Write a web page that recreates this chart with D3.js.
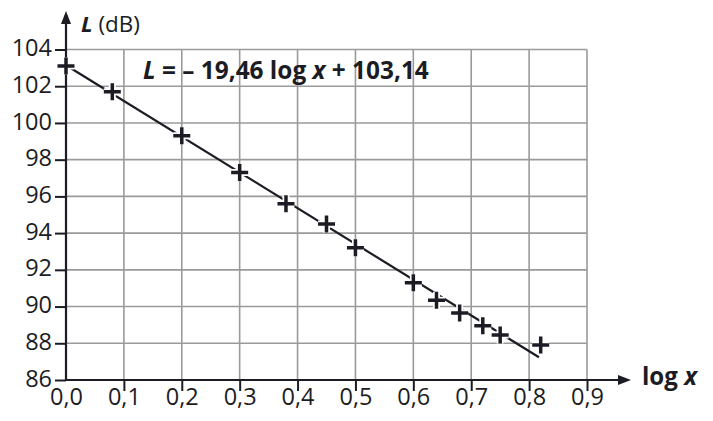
<!DOCTYPE html>
<html>
<head>
<meta charset="utf-8">
<script src="https://cdn.jsdelivr.net/npm/d3@7"></script>
<style>
  body { margin: 0; background: #fff; }
  svg { display: block; font-family: "Open Sans", sans-serif; }
</style>
</head>
<body>
<svg id="chart" width="713" height="421"></svg>
<script>
// measured points (log x, L in dB)
var logX = [0, 0.08, 0.20, 0.30, 0.38, 0.45, 0.50, 0.60, 0.64, 0.68, 0.72, 0.75, 0.82];
var levelL = [103.1, 101.7, 99.3, 97.3, 95.6, 94.5, 93.2, 91.3, 90.35, 89.65, 88.95, 88.45, 87.9];

// regression line  L = -19,46 log x + 103,14
var fitSlope = -19.46;
var fitIntercept = 103.14;
var fitRange = [0, 0.817];

var xTicks = [0, 0.1, 0.2, 0.3, 0.4, 0.5, 0.6, 0.7, 0.8, 0.9];
var yTicks = [86, 88, 90, 92, 94, 96, 98, 100, 102, 104];

var svg = d3.select("#chart");
var ink = "#1c1c24";

var x = d3.scaleLinear().domain([0, 0.9]).range([66, 587]);
var y = d3.scaleLinear().domain([86, 104]).range([380, 49.5]);

var fmt = function(d) { return d3.format(".1f")(d).replace(".", ","); };

// squeeze a text horizontally to a target width (narrow font look)
function fitWidth(sel, px, py, w) {
  var nat = sel.node().getComputedTextLength();
  sel.attr("transform", "translate(" + px + "," + py + ") scale(" + (w / nat) + ",1)");
}

// grid
var grid = svg.append("g");
grid.selectAll(".vg").data(xTicks.slice(1)).enter().append("line")
  .attr("x1", function(d) { return x(d); }).attr("x2", function(d) { return x(d); })
  .attr("y1", y(86)).attr("y2", y(104))
  .attr("stroke", "#9a9a9a").attr("stroke-width", 1.6);
grid.selectAll(".hg").data(yTicks.slice(1)).enter().append("line")
  .attr("x1", x(0)).attr("x2", x(0.9))
  .attr("y1", function(d) { return y(d); }).attr("y2", function(d) { return y(d); })
  .attr("stroke", "#9a9a9a").attr("stroke-width", 1.6);

// equation label
var eq = svg.append("text")
  .attr("font-size", 25).attr("font-weight", "bold").attr("fill", ink);
eq.append("tspan").attr("font-style", "italic").text("L");
eq.append("tspan").text(" = – 19,46 log ");
eq.append("tspan").attr("font-style", "italic").text("x");
eq.append("tspan").text(" + 103,14");
fitWidth(eq, 143, 79, 286);

// fit line
svg.append("line")
  .attr("x1", x(fitRange[0])).attr("y1", y(fitSlope * fitRange[0] + fitIntercept))
  .attr("x2", x(fitRange[1])).attr("y2", y(fitSlope * fitRange[1] + fitIntercept))
  .attr("stroke", ink).attr("stroke-width", 2.2);

// axes
var xAxis = d3.axisBottom(x).tickValues(xTicks).tickSize(11).tickFormat(fmt);
var yAxis = d3.axisLeft(y).tickValues(yTicks).tickSize(11).tickPadding(3).tickFormat(d3.format("d"));

var gx = svg.append("g").attr("transform", "translate(0," + y(86) + ")").call(xAxis);
var gy = svg.append("g").attr("transform", "translate(" + x(0) + ",0)").call(yAxis);

[gx, gy].forEach(function(g) {
  g.select(".domain").remove();
  g.selectAll(".tick line").attr("stroke", ink).attr("stroke-width", 2);
  g.selectAll(".tick text").attr("fill", ink).attr("font-size", 23.5)
    .attr("font-family", "'Open Sans', sans-serif");
});
gx.selectAll(".tick text").attr("y", 25).attr("dy", 0);
gy.selectAll(".tick text").attr("dy", "0.26em");
gx.select(".tick").select("line").remove();

// axis lines with arrows
svg.append("line").attr("x1", x(0)).attr("x2", 622).attr("y1", y(86)).attr("y2", y(86))
  .attr("stroke", ink).attr("stroke-width", 2.2);
svg.append("path").attr("d", "M631," + y(86) + "l-13,-5l0,10z").attr("fill", ink);
svg.append("line").attr("x1", x(0)).attr("x2", x(0)).attr("y1", y(86) + 1).attr("y2", 20)
  .attr("stroke", ink).attr("stroke-width", 2.2);
svg.append("path").attr("d", "M" + x(0) + ",11l-5,13l10,0z").attr("fill", ink);

// axis titles
var ty = svg.append("text").attr("font-size", 21).attr("fill", ink);
ty.append("tspan").attr("font-style", "italic").attr("font-weight", "bold").text("L");
ty.append("tspan").text(" (dB)");
fitWidth(ty, 81, 31.5, 59);

var tx = svg.append("text").attr("font-size", 25)
  .attr("font-weight", "bold").attr("fill", ink);
tx.append("tspan").text("log ");
tx.append("tspan").attr("font-style", "italic").text("x");
fitWidth(tx, 642, 385, 55);

// data crosses
var pts = logX.map(function(d, i) { return [d, levelL[i]]; });
var cross = function(d) {
  var cx = x(d[0]), cy = y(d[1]), a = 8.5;
  return "M" + (cx - a) + "," + cy + "H" + (cx + a) + "M" + cx + "," + (cy - a) + "V" + (cy + a);
};
svg.append("g").selectAll("path").data(pts).enter().append("path")
  .attr("d", cross).attr("stroke", "#fff").attr("stroke-width", 7).attr("fill", "none");
svg.append("g").selectAll("path").data(pts).enter().append("path")
  .attr("d", cross).attr("stroke", ink).attr("stroke-width", 3.5).attr("fill", "none");
</script>
</body>
</html>
